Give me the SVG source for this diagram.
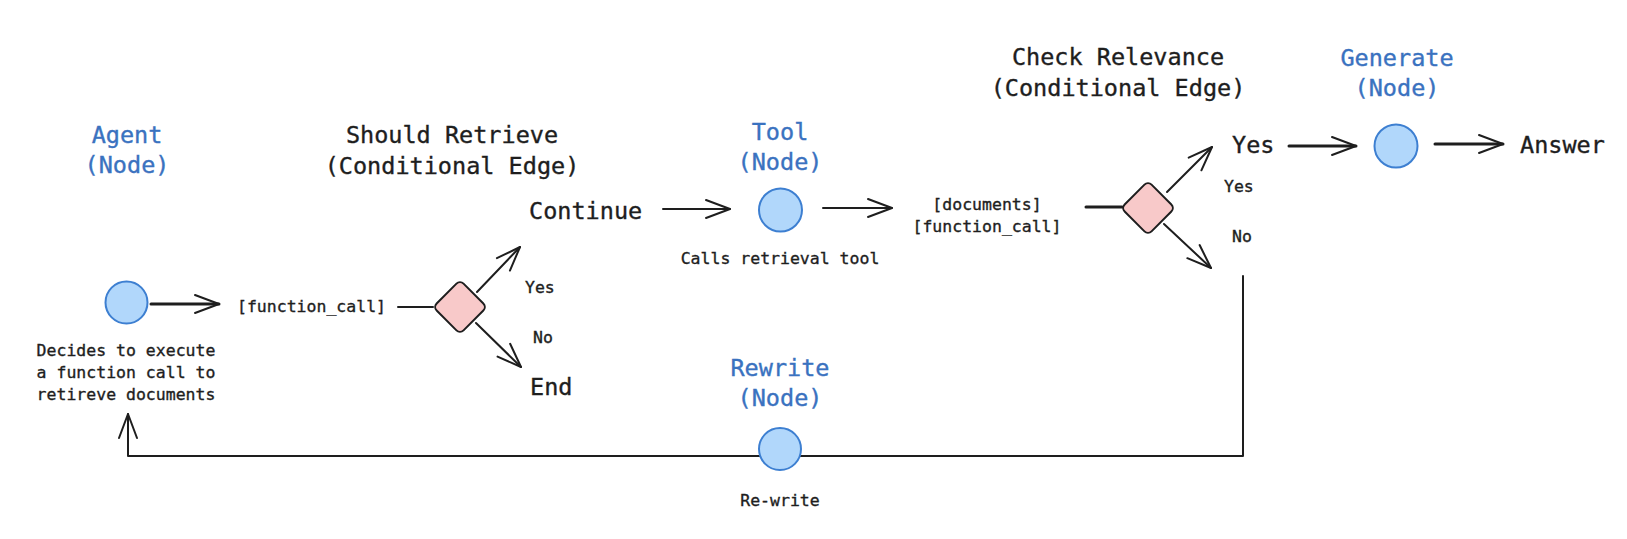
<svg xmlns="http://www.w3.org/2000/svg" width="1627" height="539" viewBox="0 0 1627 539">
<defs>
<style>
text{font-family:"DejaVu Sans Mono","Liberation Mono",monospace;fill:#1e1e1e;stroke:#1e1e1e;stroke-width:0.35}
.h{font-size:23.5px}
.b{fill:#3a72c0;stroke:#3a72c0}
.s{font-size:16.5px}
.m{text-anchor:middle}
.ln{stroke:#1e1e1e;stroke-width:2;fill:none;stroke-linecap:round;stroke-linejoin:round}
.th{stroke-width:3}
.node{fill:#b1d7fb;stroke:#3d7fd1;stroke-width:2}
.dia{fill:#f8c9c9;stroke:#1e1e1e;stroke-width:2}
</style>
<marker id="ah" markerUnits="userSpaceOnUse" viewBox="-26 -12 30 24" refX="0" refY="0" markerWidth="30" markerHeight="24" orient="auto">
<path d="M -24 -9 L 0 0 L -24 9" fill="none" stroke="#1e1e1e" stroke-width="2" stroke-linecap="round" stroke-linejoin="round"/>
</marker>
</defs>
<rect width="1627" height="539" fill="#ffffff"/>

<g id="labels">
<text class="h m" x="452" y="143">Should Retrieve</text>
<text class="h m" x="452" y="174">(Conditional Edge)</text>
<text class="h m" x="1118" y="65">Check Relevance</text>
<text class="h m" x="1118" y="96">(Conditional Edge)</text>
<text class="h" x="529" y="219">Continue</text>
<text class="h" x="530" y="395">End</text>
<text class="h" x="1232" y="153">Yes</text>
<text class="h" x="1520" y="153">Answer</text>
<text class="s" x="237" y="312">[function_call]</text>
<text class="s m" x="987" y="210">[documents]</text>
<text class="s m" x="987" y="232">[function_call]</text>
<text class="s" x="525" y="293">Yes</text>
<text class="s" x="533" y="343">No</text>
<text class="s" x="1224" y="192">Yes</text>
<text class="s" x="1232" y="242">No</text>
</g>

<g id="connectors">
<line class="ln th" x1="151" y1="304" x2="219" y2="304" marker-end="url(#ah)"/>
<line class="ln" x1="398" y1="307" x2="433" y2="307"/>
<line class="ln" x1="477" y1="292" x2="520" y2="247" marker-end="url(#ah)"/>
<line class="ln" x1="476" y1="323" x2="521" y2="367" marker-end="url(#ah)"/>
<line class="ln" x1="663" y1="209" x2="730" y2="209" marker-end="url(#ah)"/>
<line class="ln" x1="823" y1="208" x2="892" y2="208" marker-end="url(#ah)"/>
<line class="ln th" x1="1086" y1="207" x2="1122" y2="207"/>
<line class="ln" x1="1167" y1="192" x2="1212" y2="147" marker-end="url(#ah)"/>
<line class="ln" x1="1164" y1="224" x2="1211" y2="268" marker-end="url(#ah)"/>
<line class="ln th" x1="1289" y1="146" x2="1356" y2="146" marker-end="url(#ah)"/>
<line class="ln th" x1="1435" y1="144" x2="1503" y2="144" marker-end="url(#ah)"/>
<path class="ln" d="M 1243 276 L 1243 456 L 128 456 L 128 414" stroke-width="2.5" marker-end="url(#ah)"/>
</g>

<g id="agent">
<text class="h m b" x="127" y="143">Agent</text>
<text class="h m b" x="127" y="173">(Node)</text>
<circle class="node" cx="126.5" cy="302.5" r="21"/>
<text class="s m" x="126" y="356">Decides to execute</text>
<text class="s m" x="126" y="378">a function call to</text>
<text class="s m" x="126" y="400">retireve documents</text>
</g>

<g id="should-retrieve">
<rect class="dia" x="-19" y="-19" width="38" height="38" rx="5" transform="translate(460 307) rotate(45)"/>
</g>

<g id="tool">
<text class="h m b" x="780" y="140">Tool</text>
<text class="h m b" x="780" y="170">(Node)</text>
<circle class="node" cx="780.5" cy="210" r="21.5"/>
<text class="s m" x="780" y="264">Calls retrieval tool</text>
</g>

<g id="check-relevance">
<rect class="dia" x="-19" y="-19" width="38" height="38" rx="5" transform="translate(1148 208) rotate(45)"/>
</g>

<g id="generate">
<text class="h m b" x="1397" y="66">Generate</text>
<text class="h m b" x="1397" y="96">(Node)</text>
<circle class="node" cx="1396" cy="146" r="21.5"/>
</g>

<g id="rewrite">
<text class="h m b" x="780" y="376">Rewrite</text>
<text class="h m b" x="780" y="406">(Node)</text>
<circle class="node" cx="780" cy="449" r="21"/>
<text class="s m" x="780" y="506">Re-write</text>
</g>
</svg>
